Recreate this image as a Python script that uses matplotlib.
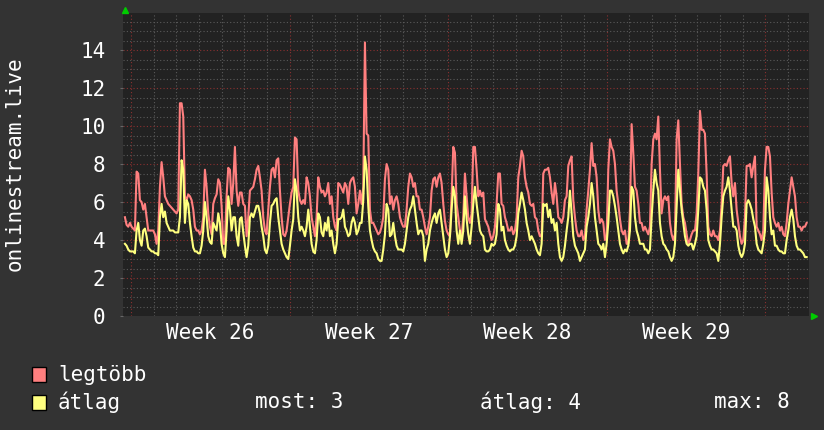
import matplotlib
matplotlib.use('Agg')
import matplotlib.pyplot as plt
import numpy as np
from matplotlib.patches import Rectangle

# samples every ~1.77 h, hours relative to Monday 00:00 of week 26
start_h = -6.4
step_h = 1.766

legtobb = [
    5.2, 4.8, 4.7, 4.9, 4.7, 4.6, 4.5, 7.6, 7.5, 6.1, 6.0, 5.6, 5.9, 5.2, 4.5, 4.5, 4.5, 4.5, 4.3, 3.8,
    4.5, 6.8, 8.1, 7.3, 6.3, 6.1, 5.9, 5.8, 5.7, 5.6, 5.5, 5.4, 5.6, 11.2, 11.2, 10.5, 6.3, 6.1, 6.4, 6.3,
    6.1, 5.6, 4.7, 4.5, 4.5, 4.3, 4.5, 5.2, 7.7, 6.8, 5.4, 4.7, 4.3, 5.9, 6.2, 6.4, 7.2, 7.0, 5.8, 3.8,
    3.8, 6.3, 7.8, 7.7, 5.9, 7.0,
    8.9, 6.6, 5.8, 6.5, 6.5, 5.9, 5.8, 4.2, 5.2, 6.6, 6.7, 6.8, 7.2, 7.7, 7.9, 7.3, 6.6, 5.2, 4.5, 4.3,
    5.6, 6.8, 7.7, 7.8, 7.3, 8.2, 8.3, 6.6, 5.2, 4.3, 4.2, 4.5, 5.2, 5.9, 6.5, 6.8, 9.4, 9.3, 6.6, 6.1,
    5.9, 6.1, 5.9, 7.3, 7.0, 6.3, 5.2, 4.7, 4.2, 5.2, 7.3, 6.8, 6.5, 6.6, 6.3, 6.5, 7.0, 5.9, 6.3, 5.2,
    4.7, 4.5, 7.0, 6.9, 6.7, 6.5, 7.0, 6.8, 5.9,
    7.0, 7.2, 7.3, 6.8, 5.4, 5.9, 6.6, 5.9, 6.8, 14.4, 9.6, 9.5, 5.6, 4.9, 4.9, 4.7, 4.5, 4.3, 4.4, 4.7,
    5.2, 7.2, 8.0, 7.7, 5.9, 6.3, 5.6, 6.1, 6.3, 5.9, 5.2, 4.9, 4.7, 4.7, 5.6, 6.8, 7.5, 7.3, 6.8, 7.0,
    6.3, 6.3, 5.6, 5.6, 5.2, 4.7, 4.3, 4.7, 5.2, 6.6, 7.2, 7.3, 6.8, 7.3, 7.5, 7.0, 5.9, 5.0, 4.5, 4.3,
    4.2, 6.3, 8.9, 8.6, 5.9, 5.2, 4.5, 4.2, 5.2,
    7.5, 6.3, 5.2, 4.9, 5.4, 8.9, 8.9, 7.7, 6.3, 6.6, 6.3, 6.5, 5.1, 4.9, 4.7, 4.3, 4.0, 4.2, 4.7, 5.9,
    7.5, 7.5, 5.9, 5.8, 5.2, 4.9, 4.5, 4.5, 4.7, 4.3, 4.5, 5.2, 7.3, 7.9, 8.7, 8.4, 7.3, 6.8, 6.5, 5.9,
    5.8, 5.9, 5.2, 5.1, 4.5, 4.2, 4.2, 7.5, 7.7, 7.7, 7.8, 7.3, 6.5, 5.9, 7.0, 6.3, 5.2, 5.1, 4.9, 5.2,
    6.1, 6.3, 7.9, 8.2, 8.4, 6.1, 5.2, 4.5, 4.2,
    4.2, 4.5, 4.0, 4.2, 5.6, 6.6, 7.7, 9.1, 7.9, 8.0, 7.3, 5.6, 4.9, 5.1, 4.9, 4.0, 4.2, 7.7, 9.3, 8.9,
    8.7, 8.0, 6.6, 5.9, 5.1, 4.5, 4.3, 4.5, 3.8, 3.8, 5.6, 10.1, 8.6, 6.8, 6.6, 5.9, 4.9, 4.9, 4.5, 4.7,
    4.5, 4.3, 4.7, 8.0, 9.3, 9.6, 9.3, 10.5, 7.7, 5.4, 6.1, 6.3, 6.1, 6.3, 4.9, 4.3, 4.0, 4.3, 9.3, 10.3,
    8.0, 5.9, 5.2, 4.9, 4.3, 3.8, 4.0, 4.3, 4.5,
    4.5, 5.4, 7.5, 10.8, 9.8, 9.8, 9.6, 7.5, 4.7, 4.3, 4.2, 4.5, 4.2, 4.2, 4.0, 4.5, 5.9, 7.9, 8.0, 7.9,
    8.2, 8.4, 7.0, 6.3, 7.0, 5.6, 4.9, 4.2, 3.8, 4.0, 5.2, 7.9, 7.9, 8.0, 7.3, 7.9, 8.4, 4.7, 4.5, 4.3,
    4.0, 4.5, 7.7, 8.9, 8.9, 8.4, 6.5, 5.2, 4.9, 4.7, 4.9, 4.5, 4.7, 4.3, 4.2, 4.9, 5.9, 6.6, 7.3, 6.8,
    6.3, 5.2, 4.7, 4.7, 4.5, 4.7, 4.7, 4.9,
]

atlag = [
    3.8, 3.7, 3.5, 3.4, 3.4, 3.4, 3.3, 4.5, 4.9, 4.0, 3.7, 4.5, 4.6, 4.2, 3.6, 3.5, 3.4, 3.4, 3.3, 3.3,
    3.2, 5.2, 5.9, 5.2, 5.5, 4.9, 4.7, 4.5, 4.5, 4.5, 4.4, 4.4, 4.4, 5.2, 8.2, 7.7, 4.9, 6.1, 5.9, 4.9,
    4.2, 3.6, 3.4, 3.4, 3.3, 3.3, 3.7, 4.5, 6.0, 5.2, 4.2, 3.9, 3.8, 4.9, 4.7, 4.5, 5.4, 4.9, 3.8, 3.3,
    3.1, 4.5, 6.3, 5.6, 4.5, 5.2,
    5.2, 4.2, 3.7, 5.1, 5.2, 4.4, 3.7, 3.1, 3.7, 5.2, 5.4, 5.2, 5.5, 5.8, 5.8, 5.4, 4.7, 4.2, 3.5, 3.3,
    3.7, 4.9, 5.8, 5.9, 6.1, 6.2, 5.2, 4.5, 3.8, 3.5, 3.3, 3.1, 3.0, 3.7, 4.5, 5.1, 7.2, 6.6, 5.2, 4.5,
    4.7, 4.5, 4.2, 4.7, 5.6, 4.7, 3.8, 3.4, 3.3, 4.0, 5.4, 5.2, 4.4, 4.2, 4.9, 4.5, 5.2, 4.2, 4.5, 3.8,
    3.3, 3.8, 5.1, 5.1, 5.2, 5.6, 4.7, 4.5, 4.2,
    4.3, 4.9, 5.2, 4.9, 4.3, 4.5, 4.9, 4.9, 6.1, 8.4, 7.7, 5.8, 4.5, 4.0, 3.6, 3.4, 3.3, 3.0, 2.9, 2.9,
    3.5, 4.3, 5.9, 5.6, 4.2, 4.3, 4.9, 4.2, 3.7, 3.5, 3.5, 3.5, 3.4, 3.8, 4.5, 5.2, 5.6, 5.8, 6.3, 5.6,
    4.9, 4.3, 4.5, 4.5, 4.2, 2.9, 3.5, 3.8, 4.5, 4.9, 5.2, 5.4, 4.9, 5.4, 5.6, 4.9, 4.2, 3.5, 3.1, 3.3,
    4.2, 5.6, 6.8, 6.3, 4.5, 3.8, 4.5, 3.8, 4.5,
    6.3, 5.1, 4.3, 3.8, 4.7, 5.9, 6.8, 5.9, 5.2, 4.5, 4.3, 4.2, 3.5, 3.4, 3.4, 3.5, 3.8, 3.7, 3.8, 4.3,
    5.9, 5.6, 4.5, 4.7, 4.0, 3.7, 3.5, 3.4, 3.5, 3.5, 3.7, 4.2, 5.4, 5.9, 6.5, 6.1, 5.6, 4.9, 4.5, 4.0,
    4.2, 4.0, 3.8, 3.5, 3.3, 3.2, 3.8, 5.9, 5.8, 5.9, 5.2, 5.6, 4.9, 5.1, 4.5, 4.9, 3.8, 3.1, 2.9, 3.1,
    3.7, 4.5, 5.2, 6.6, 5.4, 4.2, 3.7, 3.5, 3.3,
    2.9, 3.1, 3.3, 3.5, 4.7, 5.2, 5.9, 7.0, 6.3, 5.2, 4.5, 3.8, 3.7, 3.5, 3.8, 3.1, 3.8, 4.9, 6.6, 6.6,
    6.3, 5.8, 5.2, 4.5, 3.8, 3.5, 3.3, 3.5, 3.4, 3.7, 4.5, 6.8, 6.6, 5.2, 4.5, 4.2, 3.8, 3.8, 3.8, 3.5,
    3.5, 3.3, 3.5, 5.2, 6.6, 7.7, 7.0, 6.6, 4.9, 4.2, 3.8, 3.7, 3.5, 3.4, 3.1, 2.9, 3.1, 3.8, 5.8, 7.7,
    6.6, 5.6, 4.9, 4.2, 3.8, 3.7, 3.8, 3.8, 3.5,
    3.8, 4.2, 5.6, 7.3, 7.2, 6.8, 6.6, 5.6, 4.0, 3.7, 3.5, 3.5, 3.4, 3.3, 2.9, 3.8, 5.2, 6.3, 6.6, 6.8,
    7.3, 6.6, 5.6, 4.7, 4.7, 4.5, 3.7, 3.3, 3.1, 3.3, 3.8, 5.9, 6.1, 5.9, 5.6, 5.1, 4.7, 3.8, 3.5, 3.4,
    3.3, 3.8, 4.5, 7.3, 6.6, 5.2, 4.3, 4.5, 3.7, 3.7, 3.5, 3.4, 3.4, 3.3, 3.3, 4.0, 4.5, 5.2, 5.6, 5.1,
    4.2, 3.7, 3.5, 3.5, 3.4, 3.3, 3.1, 3.1,
]

weeks = ['Week 26', 'Week 27', 'Week 28', 'Week 29']

BG = '#333333'
PLOT_BG = '#222222'
RED = '#ff7f7f'
YEL = '#ffff7f'
FONT = 'DejaVu Sans Mono'

plt.rcParams['font.family'] = FONT
plt.rcParams['font.size'] = 15

t = start_h + step_h * np.arange(len(legtobb))

fig = plt.figure(figsize=(8.24, 4.30), dpi=100, facecolor=BG)
ax = fig.add_axes([123.5 / 824, 1 - 316 / 430, (809 - 123.5) / 824, 303 / 430])
ax.set_facecolor(PLOT_BG)

ax.set_xlim(-7.9, 718.4)
ax.set_ylim(0, 15.95)

# grid
for d in range(0, 30):
    h = d * 24
    if d % 7 == 0:
        ax.axvline(h, color='#8a3030', lw=0.8, ls=(0, (1, 2)), zorder=1)
    else:
        ax.axvline(h, color='#5a5a5a', lw=0.8, ls=(0, (1, 2)), zorder=1)
for v in np.arange(0.5, 16, 0.5):
    if v % 2 == 0:
        ax.axhline(v, color='#8a3030', lw=0.8, ls=(0, (1, 2)), zorder=1)
    else:
        ax.axhline(v, color='#5a5a5a', lw=0.8, ls=(0, (1, 2)), zorder=1)

ax.plot(t, legtobb, color=RED, lw=1.5, zorder=3)
ax.plot(t, atlag, color=YEL, lw=1.5, zorder=4)

ax.set_yticks(range(0, 16, 2))
ax.set_yticklabels([str(v) for v in range(0, 16, 2)])
ax.set_xticks([84 + 168 * i for i in range(len(weeks))])
ax.set_xticklabels(weeks)
ax.tick_params(axis='y', colors='#ffffff', length=2, pad=11, labelsize=15, color='#666666')
ax.tick_params(axis='x', colors='#ffffff', length=0, pad=5, labelsize=15)
for s in ax.spines.values():
    s.set_visible(False)

# arrows at the axis ends
ax.plot([0.002], [1.01], transform=ax.transAxes, marker='^', color='#00cc00', ms=4, clip_on=False)
ax.plot([1.007], [0.0], transform=ax.transAxes, marker='>', color='#00cc00', ms=4, clip_on=False)

fig.text(15 / 824, 1 - 164 / 430, 'onlinestream.live', rotation=90, color='#ffffff',
         ha='center', va='center', fontsize=15)

# legend
fig.patches.append(Rectangle((32 / 824, 1 - 382 / 430), 14 / 824, 15 / 430, transform=fig.transFigure,
                             facecolor=RED, edgecolor='#000000', lw=1))
fig.patches.append(Rectangle((32 / 824, 1 - 410 / 430), 14 / 824, 15 / 430, transform=fig.transFigure,
                             facecolor=YEL, edgecolor='#000000', lw=1))
fig.text(58 / 824, 1 - 375 / 430, 'legtöbb', color='#ffffff', va='center', fontsize=15)
fig.text(58 / 824, 1 - 402 / 430, 'átlag', color='#ffffff', va='center', fontsize=15)
fig.text(255 / 824, 1 - 402 / 430, 'most: %d' % int(atlag[-1]), color='#ffffff', va='center', fontsize=15)
fig.text(480 / 824, 1 - 402 / 430, 'átlag: %d' % int(np.mean(atlag)), color='#ffffff', va='center', fontsize=15)
fig.text(714 / 824, 1 - 402 / 430, 'max: %d' % int(max(atlag)), color='#ffffff', va='center', fontsize=15)

fig.savefig('out.png', dpi=100, facecolor=BG)
